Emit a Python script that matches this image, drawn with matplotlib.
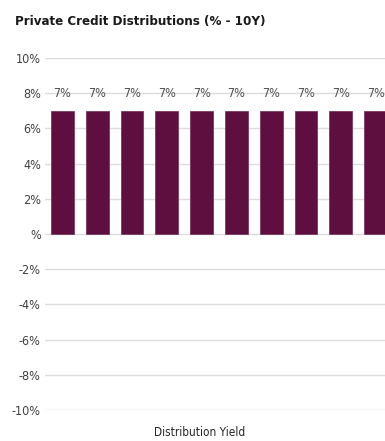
import matplotlib
matplotlib.use("Agg")
import matplotlib.pyplot as plt
from matplotlib import font_manager

# Pick a narrow sans face if one is installed
narrow = None
for f in font_manager.fontManager.ttflist:
    if "Narrow" in f.name or "Condensed" in f.name or f.stretch in ("condensed", "semi-condensed", 300, 400):
        narrow = f
        break
if narrow is not None:
    plt.rcParams["font.family"] = [narrow.name, "DejaVu Sans"]
    STRETCH = narrow.stretch
else:
    plt.rcParams["font.family"] = ["Liberation Sans", "DejaVu Sans"]
    STRETCH = "normal"
plt.rcParams["font.stretch"] = STRETCH

# Data
categories = [f"Fund {i}" for i in range(1, 11)]
distribution_yield = [7, 7, 7, 7, 7, 7, 7, 7, 7, 7]
y_ticks = [10, 8, 6, 4, 2, 0, -2, -4, -6, -8, -10]
y_tick_labels = ["10%", "8%", "6%", "4%", "2%", "%", "-2%", "-4%", "-6%", "-8%", "-10%"]

W, H = 385, 441
fig = plt.figure(figsize=(W / 100, H / 100), dpi=100)
ax = fig.add_axes([45 / W, (H - 410) / H, 348 / W, 352 / H])

bar_color = "#5e0f3f"
text_color = "#404040"

x = list(range(len(categories)))
ax.bar(x, distribution_yield, width=0.66, color=bar_color,
       edgecolor="#7a3a60", linewidth=0.6, zorder=3)

for xi, v in zip(x, distribution_yield):
    ax.annotate(f"{v}%", (xi, v), xytext=(0, 8), textcoords="offset points",
                ha="center", va="bottom", fontsize=9, color="#505050", zorder=4)

ax.set_xlim(-0.5, len(categories) - 0.5)
ax.set_ylim(-10, 10)
ax.set_yticks(y_ticks)
ax.set_yticklabels(y_tick_labels, fontsize=9, color=text_color)
ax.set_xticks([])
ax.tick_params(axis="y", length=0, pad=3)
ax.yaxis.grid(True, color="#dcdcdc", linewidth=1.0, zorder=0)
for s in ax.spines.values():
    s.set_visible(False)

fig.text(15 / W, 1 - 22 / H, "Private Credit Distributions (% - 10Y)",
         fontsize=9.5, fontweight="bold", color="#1a1a1a", ha="left", va="center")
fig.text(200 / W, 1 - 432 / H, "Distribution Yield", fontsize=8.5,
         color="#262626", ha="center", va="center")

fig.savefig("out.png", dpi=100)
